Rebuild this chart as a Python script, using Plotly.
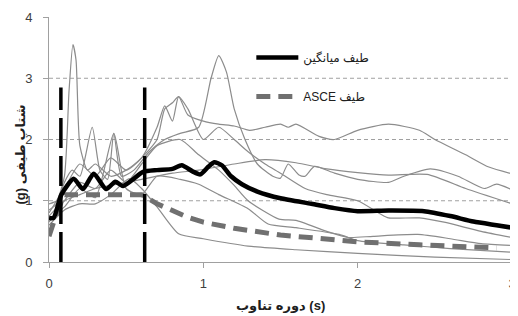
import plotly.graph_objects as go

# ---------------- data ----------------
g1_t = [0, 0.05, 0.1, 0.13, 0.155, 0.175, 0.2, 0.25, 0.3, 0.4, 0.5, 0.6, 0.7, 0.75, 0.8, 0.84, 0.9, 1.0, 1.1, 1.2, 1.3, 1.4, 1.5, 1.55, 1.6, 1.75, 1.85, 2.0, 2.2, 2.4, 2.5, 2.7, 2.85, 3.0]
g1_s = [0.95, 1.0, 1.4, 2.8, 3.55, 3.3, 1.9, 1.5, 1.6, 1.4, 1.5, 1.7, 2.0, 2.5, 2.6, 2.7, 2.4, 2.3, 2.25, 2.22, 2.15, 2.2, 2.25, 2.2, 2.25, 2.05, 2.0, 2.15, 2.25, 2.15, 2.0, 1.75, 1.55, 1.44]

g2_t = [0, 0.05, 0.1, 0.15, 0.2, 0.28, 0.33, 0.38, 0.42, 0.47, 0.55, 0.65, 0.75, 0.85, 0.97, 1.05, 1.1, 1.15, 1.2, 1.27, 1.35, 1.45, 1.5, 1.55, 1.62, 1.66, 1.72, 1.85, 2.0, 2.2, 2.3, 2.47, 2.65, 2.82, 2.9, 3.0]
g2_s = [0.85, 0.95, 1.3, 1.5, 1.4, 2.2, 1.5, 1.35, 2.1, 1.4, 1.5, 1.8, 2.0, 2.1, 2.2, 3.0, 3.37, 3.1, 2.5, 2.0, 1.6, 1.4, 1.37, 1.6, 1.42, 1.4, 1.56, 1.45, 1.35, 1.3, 1.4, 1.52, 1.4, 1.2, 1.27, 1.18]

g3_t = [0, 0.1, 0.2, 0.3, 0.4, 0.5, 0.6, 0.8, 0.97, 1.2, 1.4, 1.6, 1.8, 2.0, 2.2, 2.45, 2.7, 3.0]
g3_s = [0.75, 1.0, 1.1, 1.2, 1.25, 1.3, 1.35, 1.45, 1.5, 1.6, 1.67, 1.62, 1.52, 1.46, 1.42, 1.43, 1.2, 0.95]

g4_t = [0, 0.1, 0.2, 0.3, 0.4, 0.5, 0.6, 0.7, 0.75, 0.8, 0.84, 0.9, 1.0, 1.1, 1.2, 1.29, 1.4, 1.5, 1.66, 1.8, 2.0, 2.15, 2.2, 2.4, 2.56, 2.8, 3.0]
g4_s = [0.8, 1.2, 1.6, 1.4, 1.7, 1.5, 1.7, 2.2, 2.55, 2.3, 2.7, 2.5, 2.0, 2.2, 2.0, 1.8, 1.6, 1.45, 1.2, 1.1, 1.0, 0.78, 0.72, 0.72, 0.65, 0.5, 0.4]

g5_t = [0, 0.1, 0.2, 0.3, 0.4, 0.5, 0.6, 0.7, 0.85, 0.97, 1.1, 1.2, 1.29, 1.49, 1.6, 1.8, 1.94, 2.1, 2.39, 2.6, 2.8, 3.0]
g5_s = [0.65, 1.0, 1.3, 1.2, 1.5, 1.3, 1.6, 1.9, 2.0, 1.75, 1.5, 1.25, 1.0, 0.7, 0.68, 0.5, 0.4, 0.42, 0.45, 0.38, 0.3, 0.27]

g6_t = [0, 0.1, 0.2, 0.3, 0.42, 0.5, 0.6, 0.7, 0.85, 0.97, 1.1, 1.29, 1.42, 1.6, 1.88, 2.0, 2.3, 2.6, 3.0]
g6_s = [0.7, 0.9, 1.2, 1.05, 2.1, 1.2, 1.1, 1.4, 1.35, 1.27, 1.1, 0.87, 0.62, 0.56, 0.45, 0.35, 0.28, 0.22, 0.16]

g7_t = [0, 0.1, 0.2, 0.3, 0.4, 0.52, 0.6, 0.7, 0.84, 1.0, 1.29, 1.6, 2.0, 2.5, 3.0]
g7_s = [0.6, 0.85, 0.95, 0.95, 1.1, 1.36, 1.2, 0.9, 0.46, 0.38, 0.26, 0.2, 0.14, 0.08, 0.04]

mean_t = [0, 0.03, 0.08, 0.16, 0.22, 0.29, 0.37, 0.43, 0.48, 0.61, 0.7, 0.8, 0.86, 0.93, 0.98, 1.03, 1.07, 1.12, 1.18, 1.25, 1.35, 1.5, 1.7, 1.85, 2.0, 2.2, 2.43, 2.6, 2.75, 2.9, 3.0]
mean_s = [0.72, 0.72, 1.1, 1.36, 1.19, 1.44, 1.19, 1.31, 1.24, 1.47, 1.5, 1.52, 1.58, 1.48, 1.43, 1.55, 1.63, 1.58, 1.4, 1.27, 1.15, 1.04, 0.95, 0.88, 0.83, 0.84, 0.83, 0.75, 0.66, 0.6, 0.56]

asce_t = [0, 0.05, 0.1, 0.6, 0.7, 0.8, 0.9, 1.0, 1.2, 1.5, 1.8, 2.0, 2.4, 2.9]
asce_s = [0.42, 0.8, 1.1, 1.1, 0.95, 0.83, 0.73, 0.65, 0.55, 0.44, 0.37, 0.33, 0.28, 0.23]

marker_t = [0.077, 0.62]
marker_top = 2.85

x_ticks = [0, 1, 2, 3]
y_ticks = [0, 1, 2, 3, 4]
grid_levels = [1, 2, 3]

x_title = "دوره تناوب (s)"
y_title = "\u202bشتاب طیفی (g)\u202c"
mean_name = "طیف میانگین"
asce_name = "\u202bطیف ASCE\u202c"

FONT = "Liberation Sans, DejaVu Sans, sans-serif"
GRAY = "#8c8c8c"

fig = go.Figure()

for t, s in [(g1_t, g1_s), (g2_t, g2_s), (g3_t, g3_s), (g4_t, g4_s),
             (g5_t, g5_s), (g6_t, g6_s), (g7_t, g7_s)]:
    fig.add_trace(go.Scatter(x=t, y=s, mode="lines", showlegend=False,
                             line=dict(color=GRAY, width=1.2, shape="spline", smoothing=0.6),
                             hoverinfo="skip"))

fig.add_trace(go.Scatter(x=asce_t, y=asce_s, mode="lines", name=asce_name,
                         legendgroup="b", legendrank=2,
                         line=dict(color="#707070", width=5, dash="14px,8px")))
fig.add_trace(go.Scatter(x=mean_t, y=mean_s, mode="lines", name=mean_name,
                         legendgroup="a", legendrank=1,
                         line=dict(color="black", width=4.5, shape="spline", smoothing=0.6)))

for t in marker_t:
    fig.add_trace(go.Scatter(x=[t, t], y=[0, marker_top], mode="lines", showlegend=False,
                             line=dict(color="black", width=3.5, dash="30px,8px"),
                             hoverinfo="skip"))

shapes = []
for g in grid_levels:
    shapes.append(dict(type="line", xref="paper", x0=0, x1=1, yref="y", y0=g, y1=g,
                       line=dict(color="#a0a0a0", width=1, dash="4px,3px"), layer="below"))
shapes.append(dict(type="line", xref="paper", x0=1, x1=1, yref="paper", y0=0, y1=1,
                   line=dict(color="#a0a0a0", width=1)))

# page has an 8px body margin, so the figure is sized to fit the 518x316 window
fig.update_layout(
    width=510, height=308,
    margin=dict(l=41, r=2, t=4, b=54),
    paper_bgcolor="white", plot_bgcolor="white",
    font=dict(family=FONT, color="#404040", size=12),
    shapes=shapes,
    showlegend=True,
    legend=dict(x=0.437, y=0.894, xanchor="left", yanchor="top",
                bgcolor="rgba(0,0,0,0)", tracegroupgap=20, itemwidth=42,
                font=dict(family=FONT, size=12, color="#202020")),
    annotations=[
        dict(text=x_title, xref="paper", yref="paper", x=0.5, y=-0.176,
             xanchor="center", yanchor="middle", showarrow=False,
             font=dict(family=FONT, size=13, color="#202020", weight="bold")),
        dict(text=y_title, xref="paper", yref="paper", x=-0.062, y=0.44,
             xanchor="center", yanchor="middle", textangle=-90, showarrow=False,
             font=dict(family=FONT, size=13, color="#202020", weight="bold")),
    ],
)

fig.update_xaxes(range=[0, 3], tickvals=x_ticks, showgrid=False, zeroline=False,
                 showline=True, linecolor="#a0a0a0", linewidth=1,
                 ticks="outside", ticklen=5, tickcolor="#a0a0a0",
                 ticklabelstandoff=4, ticklabeloverflow="allow",
                 tickfont=dict(family=FONT, size=13, color="#404040"))
fig.update_yaxes(range=[0, 4], tickvals=y_ticks, showgrid=False, zeroline=False,
                 showline=True, linecolor="#a0a0a0", linewidth=1,
                 ticks="outside", ticklen=5, tickcolor="#a0a0a0",
                 ticklabelstandoff=8, ticklabeloverflow="allow",
                 tickfont=dict(family=FONT, size=13, color="#404040"))

fig.write_html("out.html")
